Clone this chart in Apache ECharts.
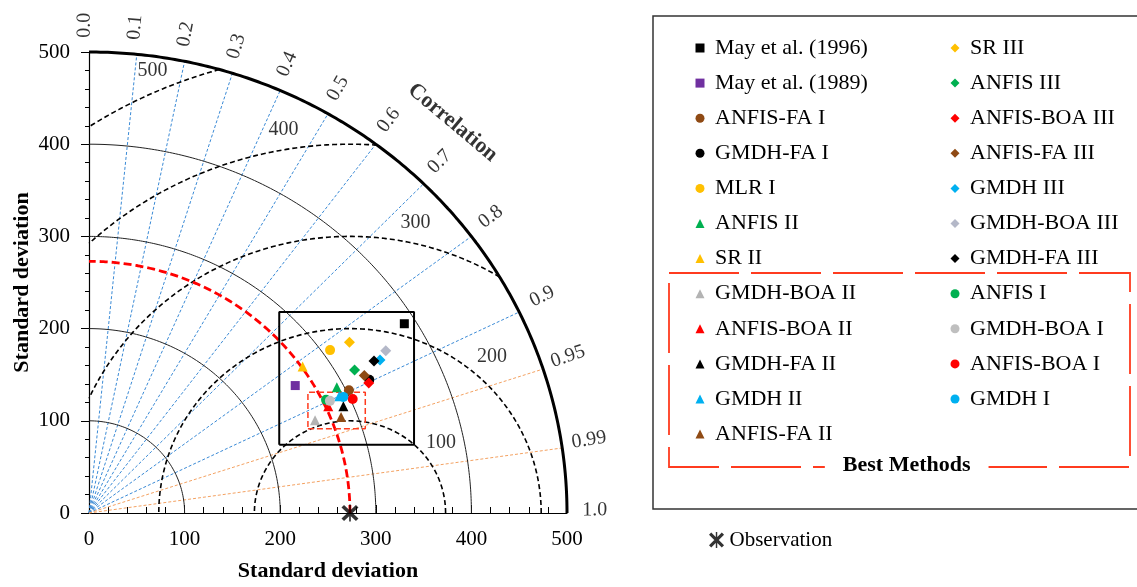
<!DOCTYPE html>
<html>
<head>
<meta charset="utf-8">
<title>Taylor diagram</title>
<script src="https://cdn.jsdelivr.net/npm/echarts@6/dist/echarts.min.js"></script>
<style>
  html, body { margin: 0; padding: 0; background: #fff; }
  #chart { width: 1137px; height: 587px; }
</style>
</head>
<body>
<div id="chart"></div>
<script>
// models: name, standard deviation, correlation with the observation
const modelNames = [
  "May et al. (1996)", "May et al. (1989)", "ANFIS-FA I", "GMDH-FA I", "MLR I", "ANFIS II",
  "SR II", "GMDH-BOA II", "ANFIS-BOA II", "GMDH-FA II", "GMDH II", "ANFIS-FA II",
  "SR III", "ANFIS III", "ANFIS-BOA III", "ANFIS-FA III", "GMDH III", "GMDH-BOA III",
  "GMDH-FA III", "ANFIS I", "GMDH-BOA I", "ANFIS-BOA I", "GMDH I"
];
const modelStd = [
  388.5, 256.2, 302.8, 326.9, 307.9, 292.9,
  274.2, 257.0, 275.8, 290.2, 290.8, 283.5,
  329.4, 318.2, 324.8, 324.3, 346.7, 356.8,
  340.7, 276.7, 279.8, 302.3, 294.3
];
const modelCorr = [
  0.849, 0.842, 0.898, 0.897, 0.819, 0.885,
  0.815, 0.920, 0.9075, 0.917, 0.900, 0.930,
  0.827, 0.873, 0.901, 0.888, 0.878, 0.870,
  0.875, 0.896, 0.9006, 0.9124, 0.9038
];
const modelSymbols = [
  "rect", "rect", "circle", "circle", "circle", "triangle",
  "triangle", "triangle", "triangle", "triangle", "triangle", "triangle",
  "diamond", "diamond", "diamond", "diamond", "diamond", "diamond",
  "diamond", "circle", "circle", "circle", "circle"
];
const modelColors = [
  "#000000", "#7030a0", "#8f4a14", "#000000", "#ffc000", "#00b050",
  "#ffc000", "#b3b3b3", "#ff0000", "#000000", "#00b0f0", "#8f4a14",
  "#ffc000", "#00b050", "#ff0000", "#8f4a14", "#00b0f0", "#b4b8c8",
  "#000000", "#00b050", "#bfbfbf", "#ff0000", "#00b0f0"
];

const obsStd = 273;
const maxStd = 500;
const stdArcs = [100, 200, 300, 400];
const rmsLevels = [100, 200, 300, 400, 500];
const corrLabels = ["0.0", "0.1", "0.2", "0.3", "0.4", "0.5", "0.6", "0.7", "0.8", "0.9", "0.95", "0.99", "1.0"];
const zoomBox = [[199, 74], [340, 74], [340, 218], [199, 218], [199, 74]];
const bestBox = [[229, 91.5], [289, 91.5], [289, 131], [229, 131], [229, 91.5]];

// label placement (degrees, measured around the observation point)
const rmsLabelAngle = [38.7, 48.8, 77.7, 99.5, 113.3];

const serif = "Liberation Serif";
const symbolSize = { rect: 9, circle: 10, triangle: 10, diamond: 11 };
const obsPath = "path://M0.6,3.4L3.4,0.6L19.4,16.6L16.6,19.4ZM16.6,0.6L19.4,3.4L3.4,19.4L0.6,16.6ZM9.1,0L10.9,0L10.9,20L9.1,20Z";

function arcPoints(cx, r, t0, t1) {
  const pts = [];
  const n = 200;
  for (let i = 0; i <= n; i++) {
    const t = t0 + (t1 - t0) * i / n;
    pts.push([cx + r * Math.cos(t), r * Math.sin(t)]);
  }
  return pts;
}

function rmsArc(r) {
  let t0 = 0, t1 = Math.PI;
  if (obsStd + r > maxStd) t0 = Math.acos((maxStd * maxStd - obsStd * obsStd - r * r) / (2 * obsStd * r));
  if (r > obsStd) t1 = Math.acos(-obsStd / r);
  return arcPoints(obsStd, r, t0, t1);
}

function lineSeries(data, style, z) {
  return {
    type: "line", data: data, symbol: "none", silent: true, clip: false,
    lineStyle: style, z: z, animation: false
  };
}

const series = [];

// correlation rays
corrLabels.slice(1, 12).forEach(function (s) {
  const c = parseFloat(s);
  const a = Math.acos(c);
  series.push(lineSeries([[0, 0], [maxStd * c, maxStd * Math.sin(a)]], {
    color: c > 0.9 ? "#f4a262" : "#3a8ad6", width: 1, type: [3, 2]
  }, 1));
});

// standard deviation arcs
stdArcs.forEach(function (r) {
  series.push(lineSeries(arcPoints(0, r, 0, Math.PI / 2), { color: "#222", width: 1 }, 2));
});
series.push(lineSeries(arcPoints(0, maxStd, 0, Math.PI / 2), { color: "#000", width: 3 }, 3));

// centred RMS difference arcs
rmsLevels.forEach(function (r) {
  series.push(lineSeries(rmsArc(r), { color: "#000", width: 1.6, type: [5, 3] }, 3));
});

// observation std arc
series.push(lineSeries(arcPoints(0, obsStd, 0, Math.PI / 2), { color: "#ff0000", width: 2.8, type: [8, 4] }, 4));

// boxes
series.push(lineSeries(zoomBox, { color: "#000", width: 2 }, 5));
series.push(lineSeries(bestBox, { color: "#ff3b1f", width: 1.5, type: [6, 3] }, 5));

// text labels
const corrLabelData = corrLabels.map(function (s) {
  const a = Math.acos(parseFloat(s)) + (s === "1.0" ? 0.006 : 0.009);
  return {
    value: [529 * Math.cos(a), 529 * Math.sin(a)],
    label: { formatter: s, rotate: a * 180 / Math.PI }
  };
});
const rmsLabelData = rmsLevels.map(function (r, i) {
  const a = rmsLabelAngle[i] * Math.PI / 180;
  return {
    value: [obsStd + (r + 22) * Math.cos(a), (r + 22) * Math.sin(a)],
    label: { formatter: String(r) }
  };
});
rmsLabelData[1].value = [421.5, 169.5];
series.push({
  type: "scatter", data: corrLabelData, symbolSize: 0, silent: true, clip: false, z: 6,
  label: { show: true, position: "inside", fontFamily: serif, fontSize: 20, color: "#000" }
});
series.push({
  type: "scatter", data: rmsLabelData, symbolSize: 0, silent: true, clip: false, z: 6,
  label: { show: true, position: "inside", fontFamily: serif, fontSize: 20, color: "#000" }
});
series.push({
  type: "scatter", data: [{ value: [380.4, 423.5] }], symbolSize: 0, silent: true, clip: false, z: 6,
  label: { show: true, position: "inside", formatter: "Correlation", rotate: -40,
    fontFamily: serif, fontSize: 22, fontWeight: "bold", color: "#000" }
});

// models
modelNames.forEach(function (name, i) {
  const a = Math.acos(modelCorr[i]);
  series.push({
    type: "scatter", name: name, symbol: modelSymbols[i], symbolSize: symbolSize[modelSymbols[i]],
    itemStyle: { color: modelColors[i], opacity: 1 }, z: 10, clip: false,
    data: [[modelStd[i] * modelCorr[i], modelStd[i] * Math.sin(a)]]
  });
});

// observation
series.push({
  type: "scatter", name: "Observation", symbol: obsPath, symbolSize: 17, z: 11, clip: false,
  itemStyle: { color: "#000" }, data: [[obsStd, 0]]
});

const legendBase = {
  orient: "vertical", itemWidth: 9, itemHeight: 9, itemGap: 13.1, padding: 0,
  selectedMode: false,
  formatter: function (name) { return " " + name; },
  textStyle: { fontFamily: serif, fontSize: 22, lineHeight: 22, color: "#000" }
};

const chart = echarts.init(document.getElementById("chart"));
chart.setOption({
  animation: false,
  backgroundColor: "#fff",
  grid: { left: 89, top: 52, width: 478, height: 466 },
  xAxis: {
    type: "value", min: 0, max: 500, interval: 100,
    name: "Standard deviation", nameLocation: "middle", nameGap: 47,
    nameTextStyle: { fontFamily: serif, fontSize: 22, fontWeight: "bold", color: "#000" },
    axisLine: { show: true, lineStyle: { color: "#000", width: 1.2 } },
    axisTick: { show: true, inside: true, length: 8, lineStyle: { color: "#000" } },
    minorTick: { show: true, splitNumber: 5, length: 6, lineStyle: { color: "#000" } },
    axisLabel: { fontFamily: serif, fontSize: 21, color: "#000", margin: 16 },
    splitLine: { show: false }
  },
  yAxis: {
    type: "value", min: 0, max: 500, interval: 100,
    name: "Standard deviation", nameLocation: "middle", nameGap: 56,
    nameTextStyle: { fontFamily: serif, fontSize: 22, fontWeight: "bold", color: "#000" },
    axisLine: { show: true, lineStyle: { color: "#000", width: 1.2 } },
    axisTick: { show: true, inside: false, length: 8, lineStyle: { color: "#000" } },
    minorTick: { show: true, splitNumber: 5, length: 4, lineStyle: { color: "#000" } },
    axisLabel: { fontFamily: serif, fontSize: 21, color: "#000", margin: 19 },
    splitLine: { show: false }
  },
  legend: [
    Object.assign({}, legendBase, { left: 695.5, top: 37, data: modelNames.slice(0, 12) }),
    Object.assign({}, legendBase, { left: 950.5, top: 37, data: modelNames.slice(12) }),
    Object.assign({}, legendBase, { left: 709, top: 529, itemWidth: 16, itemHeight: 16,
      formatter: "{name}",
      textStyle: { fontFamily: serif, fontSize: 21, lineHeight: 22, color: "#000" }, data: ["Observation"] })
  ],
  graphic: [
    { type: "rect", shape: { x: 653, y: 16, width: 500, height: 493 },
      style: { fill: "none", stroke: "#333", lineWidth: 1.5 }, z: 1 },
    { type: "rect", shape: { x: 669, y: 273, width: 461, height: 194 },
      style: { fill: "none", stroke: "#ff3b1f", lineWidth: 1.8, lineDash: [70, 12] }, z: 2 },
    { type: "text", x: 906.7, y: 465, z: 3,
      style: { text: "Best Methods", fontFamily: serif, fontSize: 22, fontWeight: "bold", fill: "#000",
        align: "center", verticalAlign: "middle", backgroundColor: "#fff", padding: [0, 18] } }
  ],
  series: series
});
</script>
</body>
</html>
